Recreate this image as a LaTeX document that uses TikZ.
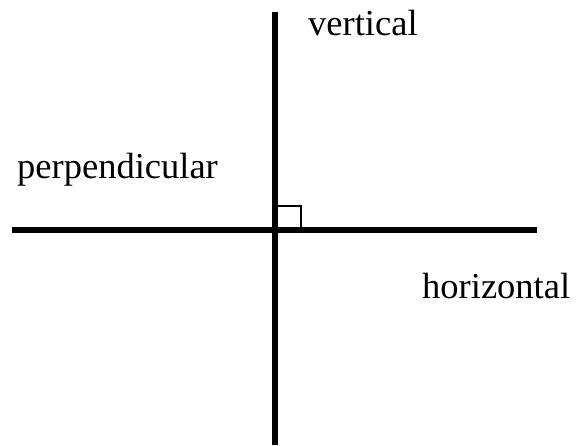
\documentclass[tikz,border=0pt]{standalone}
\usepackage{fontspec}
\setmainfont{Liberation Serif}
\usetikzlibrary{positioning}
\usetikzlibrary{calc}
\tikzset{
axisline/.style={
	draw=black,
	line width=6pt
},
rightmark/.style={
	draw=black,
	line width=2pt
},
lbl/.style={
	font=\fontsize{36.5}{40}\selectfont,
	inner sep=0pt,
	anchor=base west
}
}
\begin{document}
\begin{tikzpicture}[x=1pt, y=-1pt]

\useasboundingbox (0,0) rectangle (577,445);

\coordinate (top)    at (275,12);
\coordinate (bottom) at (275,445);
\coordinate (left)   at (12,230);
\coordinate (right)  at (537,230);
\coordinate (cross)  at (275,230);

\node (vert)  [lbl] at (308,35)  {vertical};
\node (perp)  [lbl] at (17,178)  {perpendicular};
\node (horiz) [lbl] at (422,298) {horizontal};

\draw [axisline] (top) -- (bottom);
\draw [axisline] (left) -- (right);
\draw [rightmark] ($(cross)+(1,0)$) rectangle ($(cross)+(26,-24)$);

\end{tikzpicture}
\end{document}
